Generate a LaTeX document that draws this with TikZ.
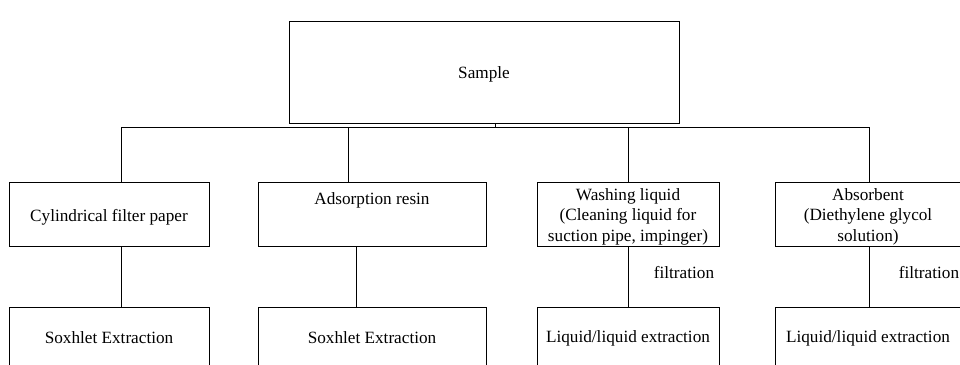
\documentclass[tikz,border=0pt]{standalone}
\usepackage{fontspec}
\setmainfont{Liberation Serif}
\begin{document}
\begin{tikzpicture}[x=1pt,y=-1pt,
  box/.style={draw, line width=1pt, inner sep=0pt, minimum height=64pt, align=center},
  lbl/.style={inner sep=0pt, align=center},
  conn/.style={line width=0.9pt},
  every node/.append style={font=\fontsize{17.2}{20.5}\selectfont}]
\useasboundingbox (0,0) rectangle (960,364);
\clip (0,0) rectangle (960,364);
% top
\node[box, minimum width=390pt, minimum height=102pt] (S) at (484,72) {};
\node[lbl] (St) at (484,74) {Sample};
% row 2
\node[box, minimum width=200pt] (B1) at (109,214) {};
\node[lbl] (B1t) at (109,217) {Cylindrical filter paper};
\node[box, minimum width=228pt] (B2) at (372,214) {};
\node[lbl] (B2t) at (372,200) {Adsorption resin};
\node[box, minimum width=182pt] (B3) at (628,214) {};
\node[lbl] (B3t) at (628,216.5) {Washing liquid\\(Cleaning liquid for\\suction pipe, impinger)};
\node[box, minimum width=186pt] (B4) at (868,214) {};
\node[lbl] (B4t) at (868,216.5) {Absorbent\\(Diethylene glycol\\solution)};
% row 3
\node[box, minimum width=200pt] (C1) at (109,339) {};
\node[lbl] (C1t) at (109,338) {Soxhlet Extraction};
\node[box, minimum width=228pt] (C2) at (372,339) {};
\node[lbl] (C2t) at (372,338) {Soxhlet Extraction};
\node[box, minimum width=182pt] (C3) at (628,339) {};
\node[lbl] (C3t) at (628,338) {Liquid/liquid extraction};
\node[box, minimum width=186pt] (C4) at (868,339) {};
\node[lbl] (C4t) at (868,338) {Liquid/liquid extraction};
% labels
\node[lbl] (F3) at (684,273) {filtration};
\node[lbl] (F4) at (929,273) {filtration};
% connectors
\coordinate (top) at (495,127);
\coordinate (j1) at (121,127);
\coordinate (j2) at (348,127);
\coordinate (j3) at (628,127);
\coordinate (j4) at (869,127);
\coordinate (k1) at (121,280);
\coordinate (k2) at (356,280);
\coordinate (k3) at (628,280);
\coordinate (k4) at (869,280);
\draw[conn] (S.south -| top) -- (top);
\draw[conn] (j1) -- (j4);
\draw[conn] (j1) -- (B1.north -| j1);
\draw[conn] (j2) -- (B2.north -| j2);
\draw[conn] (j3) -- (B3.north -| j3);
\draw[conn] (j4) -- (B4.north -| j4);
\draw[conn] (B1.south -| k1) -- (C1.north -| k1);
\draw[conn] (B2.south -| k2) -- (C2.north -| k2);
\draw[conn] (B3.south -| k3) -- (C3.north -| k3);
\draw[conn] (B4.south -| k4) -- (C4.north -| k4);
\end{tikzpicture}
\end{document}
